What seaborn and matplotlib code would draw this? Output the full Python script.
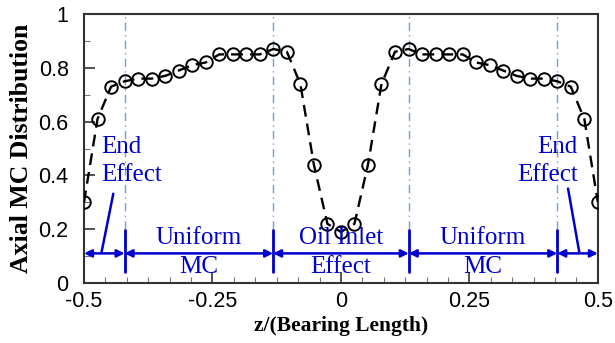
import numpy as np
import pandas as pd
import matplotlib
matplotlib.use("Agg")
import matplotlib.pyplot as plt
import seaborn as sns
from matplotlib.ticker import MultipleLocator

# Axial position (normalised by bearing length) and MC distribution values
z_pos = np.linspace(-0.5, 0.5, 39)
mc_values = [0.30, 0.61, 0.73, 0.75, 0.76, 0.76, 0.77, 0.79, 0.81, 0.82,
             0.85, 0.85, 0.85, 0.85, 0.87, 0.86, 0.74, 0.44, 0.22, 0.19,
             0.22, 0.44, 0.74, 0.86, 0.87, 0.85, 0.85, 0.85, 0.85, 0.82,
             0.81, 0.79, 0.77, 0.76, 0.76, 0.75, 0.73, 0.61, 0.30]

# Region boundaries and labels
boundaries = [-0.421, -0.132, 0.132, 0.421]
region_edges = [-0.5, -0.421, -0.132, 0.132, 0.421, 0.5]
region_labels = [None, ("Uniform", "MC"), ("Oil Inlet", "Effect"), ("Uniform", "MC"), None]

x_ticks = [-0.5, -0.25, 0, 0.25, 0.5]
x_tick_labels = ["-0.5", "-0.25", "0", "0.25", "0.5"]
y_ticks = [0, 0.2, 0.4, 0.6, 0.8, 1]
y_tick_labels = ["0", "0.2", "0.4", "0.6", "0.8", "1"]

df = pd.DataFrame({"z": z_pos, "mc": mc_values})

sns.set_style("white")
plt.rcParams["font.family"] = ["Liberation Sans", "DejaVu Sans"]
plt.rcParams["text.color"] = "black"
plt.rcParams["axes.labelcolor"] = "black"

fig = plt.figure(figsize=(6.15, 3.43), dpi=100)
ax = fig.add_axes([0.1366, 0.175, 0.8355, 0.784])

blue = "#0000CC"
light_blue = "#6FA0DC"
serif = ["Liberation Serif", "DejaVu Serif"]

# Dash-dot boundary guides
for b in boundaries:
    ax.plot([b, b], [0.2, 1.0], color=light_blue, lw=1.0, ls=(0, (6, 3, 1, 3)), zorder=1)

sns.lineplot(data=df, x="z", y="mc", ax=ax, color="black", lw=1.7,
             linestyle=(0, (5, 3)), marker="o", markersize=9,
             markerfacecolor="none", markeredgecolor="black",
             markeredgewidth=1.4, zorder=3)

# Region arrows
arrow_y = 0.11
for x0, x1 in zip(region_edges[:-1], region_edges[1:]):
    ax.annotate("", xy=(x0, arrow_y), xytext=(x1, arrow_y),
                arrowprops=dict(arrowstyle="<|-|>", color=blue, lw=1.8,
                                mutation_scale=11, shrinkA=0, shrinkB=0))
for b in boundaries:
    ax.plot([b, b], [0.04, 0.196], color=blue, lw=2.0, zorder=2)

for (x0, x1), lab in zip(zip(region_edges[:-1], region_edges[1:]), region_labels):
    if lab is None:
        continue
    xc = (x0 + x1) / 2
    ax.text(xc, 0.167, lab[0], ha="center", va="center", color=blue,
            fontsize=18, family=serif)
    ax.text(xc, 0.058, lab[1], ha="center", va="center", color=blue,
            fontsize=18, family=serif)

# End effect labels with leader lines
ax.text(-0.466, 0.505, "End", ha="left", va="center", color=blue, fontsize=18, family=serif)
ax.text(-0.466, 0.40, "Effect", ha="left", va="center", color=blue, fontsize=18, family=serif)
ax.plot([-0.443, -0.466], [0.332, 0.113], color=blue, lw=1.8)

ax.text(0.461, 0.505, "End", ha="right", va="center", color=blue, fontsize=18, family=serif)
ax.text(0.461, 0.40, "Effect", ha="right", va="center", color=blue, fontsize=18, family=serif)
ax.plot([0.442, 0.464], [0.351, 0.113], color=blue, lw=1.8)

ax.set_xlim(-0.5, 0.5)
ax.set_ylim(0, 1)
ax.set_xticks(x_ticks)
ax.set_xticklabels(x_tick_labels)
ax.set_yticks(y_ticks)
ax.set_yticklabels(y_tick_labels)
ax.xaxis.set_minor_locator(MultipleLocator(0.25 / 6))
ax.yaxis.set_minor_locator(MultipleLocator(0.1))
ax.tick_params(axis="both", which="major", direction="in", length=8, width=1.2,
               labelsize=15.5, colors="#333333", labelcolor="black")
ax.tick_params(axis="x", which="major", pad=6)
ax.tick_params(axis="y", which="major", pad=11)
ax.tick_params(axis="both", which="minor", direction="in", length=4, width=0.8,
               colors="#777777")
ax.tick_params(bottom=True, left=True, top=False, right=False, which="both")

ax.set_xlabel("z/(Bearing Length)", fontsize=15.5, fontweight="bold", family=serif,
              labelpad=3, color="black")
ax.set_ylabel("Axial MC Distribution", fontsize=18.5, fontweight="bold", family=serif,
              labelpad=4, color="black")

for s in ax.spines.values():
    s.set_color("#333333")
    s.set_linewidth(1.5)

fig.savefig("out.png", dpi=100)
